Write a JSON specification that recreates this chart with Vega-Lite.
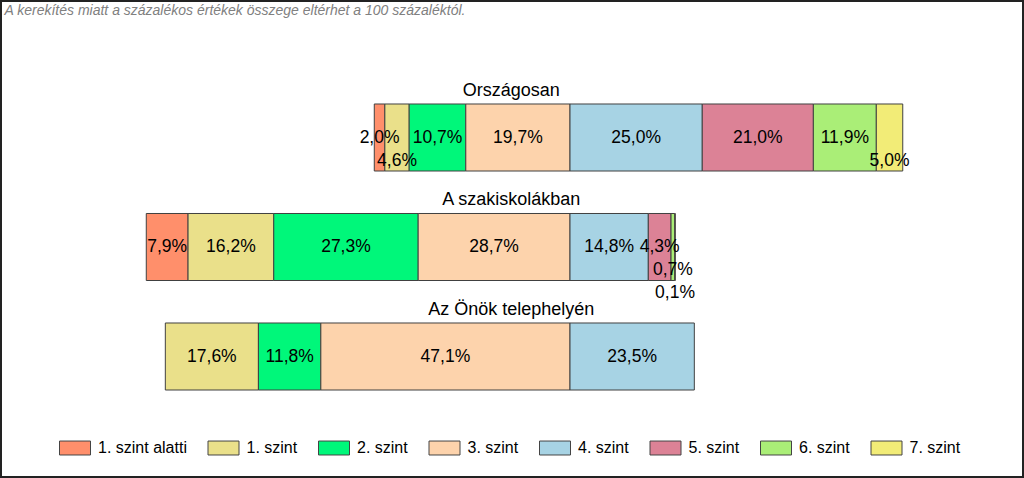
{
  "$schema": "https://vega.github.io/schema/vega-lite/v6.json",
  "width": 1024,
  "height": 478,
  "autosize": {"type": "none"},
  "padding": 0,
  "background": "white",
  "data": {
    "values": [
      {"group": "Országosan", "level": "1. szint alatti", "v": 2.0},
      {"group": "Országosan", "level": "1. szint", "v": 4.6},
      {"group": "Országosan", "level": "2. szint", "v": 10.7},
      {"group": "Országosan", "level": "3. szint", "v": 19.7},
      {"group": "Országosan", "level": "4. szint", "v": 25.0},
      {"group": "Országosan", "level": "5. szint", "v": 21.0},
      {"group": "Országosan", "level": "6. szint", "v": 11.9},
      {"group": "Országosan", "level": "7. szint", "v": 5.0},
      {"group": "A szakiskolákban", "level": "1. szint alatti", "v": 7.9},
      {"group": "A szakiskolákban", "level": "1. szint", "v": 16.2},
      {"group": "A szakiskolákban", "level": "2. szint", "v": 27.3},
      {"group": "A szakiskolákban", "level": "3. szint", "v": 28.7},
      {"group": "A szakiskolákban", "level": "4. szint", "v": 14.8},
      {"group": "A szakiskolákban", "level": "5. szint", "v": 4.3},
      {"group": "A szakiskolákban", "level": "6. szint", "v": 0.7},
      {"group": "A szakiskolákban", "level": "7. szint", "v": 0.1},
      {"group": "Az Önök telephelyén", "level": "1. szint", "v": 17.6},
      {"group": "Az Önök telephelyén", "level": "2. szint", "v": 11.8},
      {"group": "Az Önök telephelyén", "level": "3. szint", "v": 47.1},
      {"group": "Az Önök telephelyén", "level": "4. szint", "v": 23.5}
    ]
  },
  "transform": [
    {"calculate": "indexof(['1. szint alatti','1. szint','2. szint','3. szint','4. szint','5. szint','6. szint','7. szint'], datum.level)", "as": "idx"},
    {"calculate": "datum.idx < 4 ? -datum.v : datum.v", "as": "sv"},
    {"calculate": "datum.idx < 4 ? 3 - datum.idx : datum.idx - 4", "as": "rank"},
    {"stack": "sv", "groupby": ["group"], "sort": [{"field": "rank", "order": "ascending"}], "as": ["x0", "x1"], "offset": "zero"},
    {"calculate": "(datum.x0 + datum.x1) / 2", "as": "mid"},
    {"calculate": "replace(format(datum.v, '.1f'), '.', ',') + '%'", "as": "lbl"},
    {"calculate": "datum.v < 0.5 ? 2 : ((datum.v < 1 || (datum.v < 6 && (datum.level == '1. szint' || datum.level == '7. szint'))) ? 1 : 0)", "as": "tier"}
  ],
  "layer": [
    {
      "mark": {"type": "bar", "stroke": "#404040", "strokeWidth": 1},
      "encoding": {
        "x": {
          "field": "x0",
          "type": "quantitative",
          "scale": {"domain": [-107.75, 85.82], "nice": false, "zero": false},
          "axis": {
            "orient": "top",
            "domain": false,
            "ticks": false,
            "labels": false,
            "grid": false,
            "title": "A kerekítés miatt a  százalékos értékek összege eltérhet a 100 százaléktól.",
            "titleX": 4,
            "titleY": 14,
            "titleAnchor": null,
            "titleAlign": "left",
            "titleBaseline": "alphabetic",
            "titleAngle": 0,
            "titleFont": "Liberation Sans",
            "titleFontSize": 14,
            "titleFontStyle": "italic",
            "titleFontWeight": "normal",
            "titleColor": "#808080"
          }
        },
        "x2": {"field": "x1"},
        "y": {"field": "group", "type": "nominal", "axis": null, "sort": ["Országosan", "A szakiskolákban", "Az Önök telephelyén"], "scale": {"range": [82.75, 411.25], "paddingInner": 0.388, "paddingOuter": 0.194}},
        "color": {
          "field": "level",
          "type": "nominal",
          "scale": {
            "domain": ["1. szint alatti", "1. szint", "2. szint", "3. szint", "4. szint", "5. szint", "6. szint", "7. szint"],
            "range": ["#FF8F6B", "#EAE08A", "#00F77A", "#FDD3AC", "#A7D3E4", "#DC8296", "#AAEE77", "#F2EC77"]
          },
          "legend": {
            "orient": "none",
            "legendX": 59,
            "legendY": 432,
            "direction": "horizontal",
            "title": null,
            "symbolType": "M-1,-0.45H1V0.45H-1Z",
            "symbolSize": 961,
            "symbolStrokeColor": "#444444",
            "symbolStrokeWidth": 1,
            "symbolOpacity": 1,
            "labelFont": "Liberation Sans",
            "labelFontSize": 16,
            "labelColor": "#000000",
            "labelOffset": 7,
            "columnPadding": 18.5,
            "padding": 0
          }
        }
      }
    },
    {
      "mark": {"type": "text", "font": "Liberation Sans", "fontSize": 17.5, "color": "#000000", "baseline": "middle", "align": "center", "dy": {"expr": "datum.tier * 23"}},
      "encoding": {
        "x": {"field": "mid", "type": "quantitative"},
        "y": {"field": "group", "type": "nominal", "sort": ["Országosan", "A szakiskolákban", "Az Önök telephelyén"]},
        "text": {"field": "lbl"}
      }
    },
    {
      "transform": [{"aggregate": [{"op": "count", "as": "n"}], "groupby": ["group"]}],
      "mark": {"type": "text", "font": "Liberation Sans", "fontSize": 18, "color": "#000000", "baseline": "middle", "align": "center", "dy": -47},
      "encoding": {
        "x": {"datum": -11.1, "type": "quantitative"},
        "y": {"field": "group", "type": "nominal", "sort": ["Országosan", "A szakiskolákban", "Az Önök telephelyén"]},
        "text": {"field": "group"}
      }
    }
  ],
  "config": {
    "view": {"stroke": "#222222", "strokeWidth": 4},
    "text": {"font": "Liberation Sans"}
  }
}
